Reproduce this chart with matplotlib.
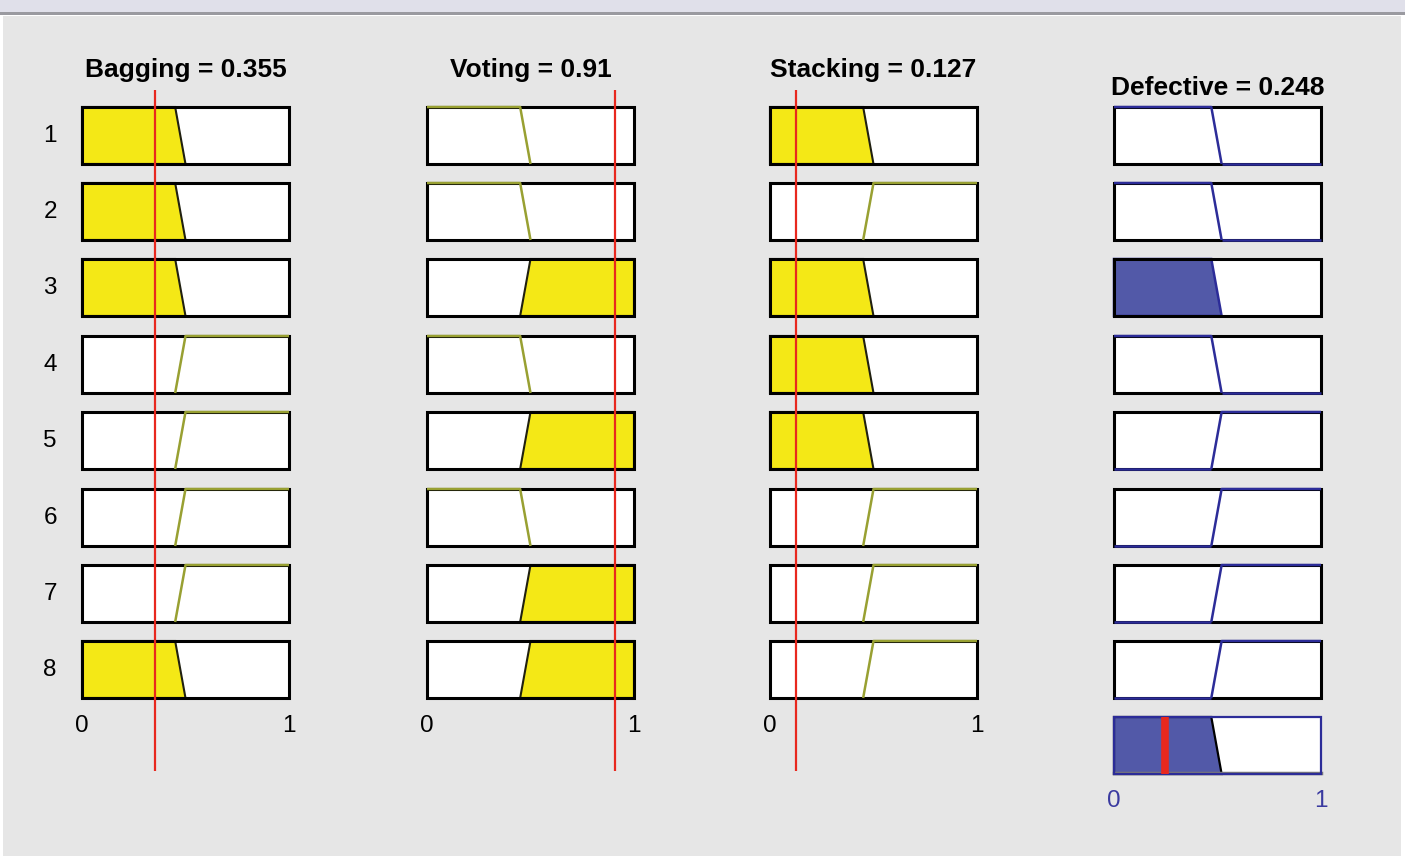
# rule viewer: 8 rules, three inputs, one output
import matplotlib
matplotlib.use('Agg')
import matplotlib.pyplot as plt
from matplotlib.patches import Rectangle, Polygon

# -------------------------------------------------------------------
# data
input_names = ['Bagging', 'Voting', 'Stacking']
input_values = [0.355, 0.91, 0.127]
input_texts = ['0.355', '0.91', '0.127']
output_name = 'Defective'
output_value = 0.248
output_text = '0.248'

rules_bagging = ['low', 'low', 'low', 'high', 'high', 'high', 'high', 'low']
rules_voting = ['low', 'low', 'high', 'low', 'high', 'low', 'high', 'high']
rules_stacking = ['low', 'high', 'low', 'low', 'low', 'high', 'high', 'high']
rules_defective = ['low', 'low', 'low', 'low', 'high', 'high', 'high', 'high']
rule_labels = ['1', '2', '3', '4', '5', '6', '7', '8']

# membership breakpoints (shoulder a -> foot b)
in_break = (0.45, 0.5)
out_break = (0.47, 0.52)

# -------------------------------------------------------------------
# styles
W, H = 1405, 862
BG = '#e6e6e6'
YELLOW = '#f4e816'
OLIVE = '#98a032'
BLUE_FILL = '#5259a8'
BLUE_LINE = '#2c2c98'
RED = '#e8281e'

col_x = [82, 427, 770, 1114]
col_w = 207
row_top = [108, 184, 260, 337, 413, 490, 566, 642, 718]
row_h = 57


def px_axes(fig, x, y, w, h):
    '''axes from pixel box, y measured from the top'''
    ax = fig.add_axes([x / W, 1 - (y + h) / H, w / W, h / H])
    ax.set_xlim(0, 1)
    ax.set_ylim(0, 1)
    ax.axis('off')
    return ax


def mf(x, kind, brk):
    a, b = brk
    if kind == 'low':
        if x <= a:
            return 1.0
        if x >= b:
            return 0.0
        return (b - x) / (b - a)
    if x <= a:
        return 0.0
    if x >= b:
        return 1.0
    return (x - a) / (b - a)


def draw_mf_line(ax, kind, brk, color, show_bottom):
    '''draw MF outline; bottom segment may sit under the frame'''
    a, b = brk
    if kind == 'low':
        top = ([0, a, b], [1, 1, 0])
        bot = ([b, 1], [0, 0])
    else:
        top = ([a, b, 1], [0, 1, 1])
        bot = ([0, a], [0, 0])
    ax.plot(*top, color=color, lw=1.8, zorder=3, clip_on=False, solid_capstyle='butt')
    ax.plot(*bot, color=color, lw=1.8, zorder=3 if show_bottom else 1,
            clip_on=False, solid_capstyle='butt')


def mf_poly(kind, brk, s=1.0):
    a, b = brk
    if kind == 'low':
        xs = b - s * (b - a)
        return [(0, 0), (0, s), (xs, s), (b, 0)]
    xs = a + s * (b - a)
    return [(a, 0), (xs, s), (1, s), (1, 0)]


fig = plt.figure(figsize=(W / 100, H / 100), dpi=100)
fig.patch.set_facecolor('white')

# window background
bg = fig.add_axes([0, 0, 1, 1])
bg.set_xlim(0, W)
bg.set_ylim(H, 0)
bg.axis('off')
bg.add_patch(Rectangle((3, 17), 1398, 840, facecolor=BG, edgecolor='none'))
bg.add_patch(Rectangle((0, 0), W, 13, facecolor='#e0e0ea', edgecolor='none'))
bg.add_patch(Rectangle((0, 13), W, 3, facecolor='#9a9aa0', edgecolor='none'))

in_rules = [rules_bagging, rules_voting, rules_stacking]

# rule firing strengths (AND = min)
strength = []
for i in range(len(rule_labels)):
    s = min(mf(input_values[k], in_rules[k][i], in_break) for k in range(3))
    strength.append(s)

# input columns
for k in range(3):
    x0 = col_x[k]
    for i, kind in enumerate(in_rules[k]):
        ax = px_axes(fig, x0, row_top[i], col_w, row_h)
        ax.add_patch(Rectangle((0, 0), 1, 1, facecolor='white', edgecolor='none', zorder=0))
        deg = mf(input_values[k], kind, in_break)
        if deg > 0:
            ax.add_patch(Polygon(mf_poly(kind, in_break), closed=True, facecolor=YELLOW,
                                 edgecolor='#202010', lw=1.5, zorder=1, clip_on=False))
        ax.add_patch(Rectangle((0, 0), 1, 1, facecolor='none', edgecolor='black',
                               lw=2.2, zorder=2, clip_on=False))
        if deg == 0:
            draw_mf_line(ax, kind, in_break, OLIVE, show_bottom=False)
    # tick labels
    lab = px_axes(fig, x0, 700, col_w, 50)
    lab.text(0, 0.48, '0', ha='center', va='center', fontsize=17.5, family='Liberation Sans')
    lab.text(1, 0.48, '1', ha='center', va='center', fontsize=17.5, family='Liberation Sans')
    # title
    fig.text((x0 + col_w / 2) / W, 1 - 70 / H, f'{input_names[k]} = {input_texts[k]}',
             ha='center', va='center', fontsize=19, fontweight='bold',
             family='Liberation Sans')
    # input value line
    ov = px_axes(fig, x0, 91, col_w, 681)
    ov.axvline(input_values[k], color=RED, lw=1.6, zorder=10)

# row numbers
for i, lbl in enumerate(rule_labels):
    fig.text(50 / W, 1 - (row_top[i] + row_h / 2) / H, lbl, ha='center', va='center',
             fontsize=17.5, family='Liberation Sans')

# output column
x0 = col_x[3]
for i, kind in enumerate(rules_defective):
    ax = px_axes(fig, x0, row_top[i], col_w, row_h)
    ax.add_patch(Rectangle((0, 0), 1, 1, facecolor='white', edgecolor='none', zorder=0))
    s = strength[i]
    if s > 0:
        ax.add_patch(Polygon(mf_poly(kind, out_break, s), closed=True, facecolor=BLUE_FILL,
                             edgecolor=BLUE_LINE, lw=1.8, zorder=1, clip_on=False))
    ax.add_patch(Rectangle((0, 0), 1, 1, facecolor='none', edgecolor='black',
                           lw=2.2, zorder=2, clip_on=False))
    if s == 0:
        draw_mf_line(ax, kind, out_break, BLUE_LINE, show_bottom=True)

# aggregated output
ax = px_axes(fig, x0, row_top[8], col_w, row_h)
ax.add_patch(Rectangle((0, 0), 1, 1, facecolor='white', edgecolor='none', zorder=0))
for i, kind in enumerate(rules_defective):
    if strength[i] > 0:
        ax.add_patch(Polygon(mf_poly(kind, out_break, strength[i]), closed=True,
                             facecolor=BLUE_FILL, edgecolor='black', lw=1.6, zorder=1,
                             clip_on=False))
ax.plot([0, 1], [0.02, 0.02], color='#7a7a7a', lw=2.5, zorder=2, clip_on=False)
ax.add_patch(Rectangle((0, 0), 1, 1, facecolor='none', edgecolor=BLUE_LINE,
                       lw=1.6, zorder=3, clip_on=False))
ax.plot([output_value, output_value], [0, 1], color=RED, lw=5.5, zorder=4,
        solid_capstyle='butt', clip_on=False)

lab = px_axes(fig, x0, 778, col_w, 46)
lab.text(0, 0.5, '0', ha='center', va='center', fontsize=17.5, color='#3a3aa0',
         family='Liberation Sans')
lab.text(1, 0.5, '1', ha='center', va='center', fontsize=17.5, color='#3a3aa0',
         family='Liberation Sans')

fig.text((x0 + col_w / 2) / W, 1 - 88 / H, f'{output_name} = {output_text}',
         ha='center', va='center', fontsize=19, fontweight='bold',
         family='Liberation Sans')

fig.savefig('out.png', dpi=100, facecolor=fig.get_facecolor())
